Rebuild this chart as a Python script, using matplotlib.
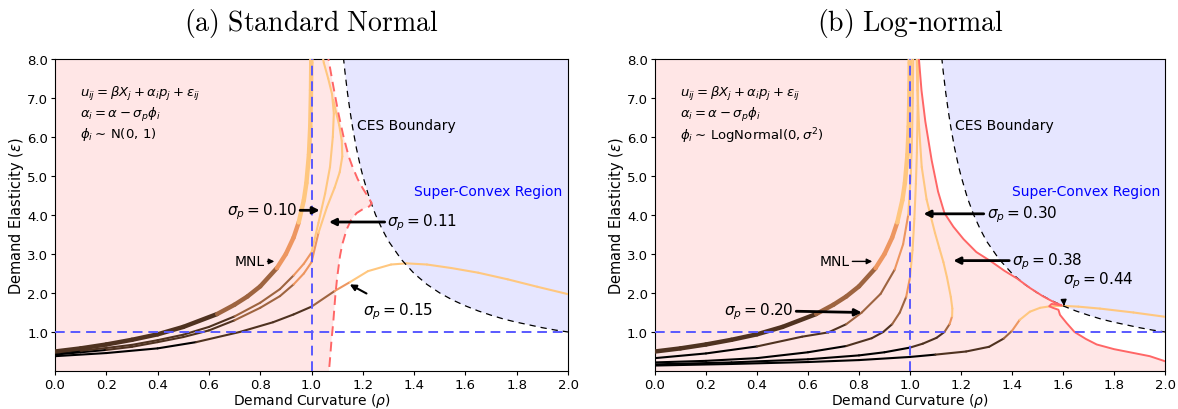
import numpy as np
import matplotlib
matplotlib.use("Agg")
import matplotlib.pyplot as plt
from matplotlib.collections import LineCollection
from matplotlib.patches import Polygon

plt.rcParams["mathtext.fontset"] = "dejavusans"
plt.rcParams["font.family"] = ["DejaVu Sans"]

# ---------------------------------------------------------------- data
# Each curve: demand curvature (rho), demand elasticity (eps) and the
# price band of each point (0..4), used for the copper colouring.
mnl_rho = [0.0, 0.1, 0.2, 0.3, 0.4, 0.5, 0.632, 0.7, 0.75, 0.8, 0.865, 0.9, 0.93,
           0.95, 0.97, 0.98, 0.99, 0.995, 0.998, 0.999, 0.9995]
mnl_eps = [0.50, 0.58, 0.68, 0.80, 0.94, 1.13, 1.46, 1.70, 1.91, 2.17, 2.64, 3.00, 3.42,
           3.81, 4.38, 4.82, 5.55, 6.27, 7.20, 7.90, 8.60]
mnl_band = [1, 1, 1, 1, 1, 1, 2, 2, 2, 2, 3, 3, 3, 4, 4, 4, 4, 4, 4, 4, 4]

# (a) standard normal heterogeneity
sn010_rho = [0.0, 0.1, 0.2, 0.3, 0.4, 0.5, 0.6, 0.7, 0.8, 0.877, 0.93, 0.97, 1.0, 1.027,
             1.053, 1.072, 1.083, 1.087, 1.08, 1.065, 1.048, 1.04]
sn010_eps = [0.46, 0.52, 0.59, 0.67, 0.79, 0.93, 1.13, 1.40, 1.75, 2.10, 2.45, 2.75, 3.04,
             3.80, 4.55, 5.23, 6.00, 6.60, 7.10, 7.50, 7.90, 8.20]
sn010_band = [0, 1, 1, 1, 1, 1, 1, 2, 2, 2, 3, 3, 4, 4, 4, 4, 4, 4, 4, 4, 4, 4]

sn011_rho = [0.0, 0.1, 0.2, 0.3, 0.4, 0.5, 0.6, 0.7, 0.8, 0.877, 0.93, 0.97, 1.0, 1.027,
             1.06, 1.09, 1.11, 1.12, 1.118, 1.108, 1.095, 1.085]
sn011_eps = [0.42, 0.48, 0.54, 0.62, 0.74, 0.87, 1.04, 1.30, 1.62, 1.92, 2.22, 2.50, 2.79,
             3.54, 4.20, 4.70, 5.10, 5.50, 5.90, 6.30, 6.65, 6.95]
sn011_band = [0, 0, 1, 1, 1, 1, 1, 2, 2, 2, 3, 3, 3, 4, 4, 4, 4, 4, 4, 4, 4, 4]

sn015_rho = [0.0, 0.2, 0.4, 0.55, 0.72, 0.85, 0.93, 1.0, 1.09, 1.15, 1.22, 1.31, 1.37,
             1.45, 1.545, 1.65, 1.765, 1.88, 2.0]
sn015_eps = [0.38, 0.46, 0.58, 0.74, 1.00, 1.25, 1.45, 1.65, 2.05, 2.28, 2.56, 2.73, 2.76,
             2.73, 2.64, 2.52, 2.35, 2.16, 1.97]
sn015_band = [0, 0, 0, 1, 1, 1, 1, 2, 3, 4, 4, 4, 4, 4, 4, 4, 4, 4, 4]

# boundary of the region reached by the normal specification
sn_edge_rho = [1.062, 1.066, 1.085, 1.105, 1.125, 1.145, 1.16, 1.18, 1.20, 1.22, 1.235,
               1.225, 1.20, 1.176, 1.155, 1.137, 1.12, 1.111, 1.10, 1.093, 1.085, 1.078,
               1.072, 1.068]
sn_edge_eps = [8.2, 8.0, 7.3, 6.6, 6.0, 5.5, 5.23, 4.92, 4.68, 4.47, 4.30,
               4.22, 4.15, 4.05, 3.88, 3.63, 3.25, 2.95, 2.40, 1.95, 1.27, 0.80,
               0.30, 0.0]

# (b) log-normal heterogeneity
ln020_rho = [0.0, 0.2, 0.4, 0.577, 0.68, 0.75, 0.811, 0.885, 0.94, 0.973, 0.993, 1.003,
             1.008, 1.011, 1.013]
ln020_eps = [0.33, 0.45, 0.63, 0.88, 0.99, 1.20, 1.50, 1.98, 2.60, 3.25, 4.00, 5.00,
             6.00, 7.00, 8.30]
ln020_band = [0, 0, 1, 1, 1, 2, 2, 2, 3, 3, 4, 4, 4, 4, 4]

ln030_rho = [0.0, 0.2, 0.4, 0.6, 0.75, 0.85, 0.895, 0.93, 0.96, 0.985, 1.0, 1.01, 1.017,
             1.023, 1.027, 1.03, 1.032]
ln030_eps = [0.22, 0.26, 0.33, 0.48, 0.64, 0.84, 1.00, 1.20, 1.50, 1.90, 2.40, 3.10, 3.90,
             4.80, 5.60, 6.80, 8.30]
ln030_band = [0, 0, 0, 0, 1, 1, 1, 2, 2, 3, 4, 4, 4, 4, 4, 4, 4]

ln038_rho = [0.0, 0.3, 0.6, 0.8, 0.9, 1.0, 1.05, 1.104, 1.135, 1.155, 1.165, 1.166, 1.16,
             1.145, 1.131, 1.115, 1.098, 1.08, 1.065, 1.046, 1.036, 1.029, 1.025]
ln038_eps = [0.17, 0.22, 0.30, 0.40, 0.48, 0.60, 0.70, 0.85, 1.00, 1.20, 1.40, 1.60, 1.90,
             2.40, 2.79, 3.15, 3.54, 4.00, 4.40, 5.23, 6.20, 7.20, 8.30]
ln038_band = [0, 0, 0, 0, 0, 1, 1, 1, 2, 3, 4, 4, 4, 4, 4, 4, 4, 4, 4, 4, 4, 4, 4]

ln044_rho = [0.0, 0.3, 0.6, 0.8, 1.0, 1.1, 1.22, 1.31, 1.367, 1.40, 1.43, 1.47, 1.51,
             1.55, 1.60, 1.66, 1.745, 1.876, 2.0]
ln044_eps = [0.14, 0.18, 0.23, 0.28, 0.36, 0.42, 0.50, 0.62, 0.83, 1.03, 1.31, 1.52, 1.62,
             1.66, 1.67, 1.65, 1.60, 1.50, 1.39]
ln044_band = [0, 0, 0, 0, 0, 1, 1, 1, 2, 3, 4, 4, 4, 4, 4, 4, 4, 4, 4]

ln_edge_rho = [1.03, 1.035, 1.045, 1.06, 1.085, 1.11, 1.135, 1.17, 1.21, 1.26, 1.32, 1.37,
               1.42, 1.47, 1.52, 1.56, 1.595, 1.575, 1.555, 1.546, 1.56, 1.582, 1.588,
               1.614, 1.645, 1.69, 1.732, 1.80, 1.87, 1.94, 2.0]
ln_edge_eps = [8.2, 8.0, 7.2, 6.4, 5.4, 4.6, 4.05, 3.70, 3.38, 3.05, 2.80, 2.57,
               2.37, 2.13, 1.92, 1.78, 1.68, 1.70, 1.72, 1.66, 1.62, 1.57, 1.44,
               1.23, 1.00, 0.82, 0.68, 0.56, 0.47, 0.38, 0.25]

# CES boundary
ces_rho = [1.12, 1.125, 1.13, 1.14, 1.15, 1.16, 1.175, 1.19, 1.2, 1.225, 1.25, 1.275, 1.3,
           1.35, 1.4, 1.45, 1.5, 1.55, 1.6, 1.65, 1.7, 1.75, 1.8, 1.85, 1.9, 1.95, 2.0]
ces_eps = [8.33, 8.00, 7.69, 7.14, 6.67, 6.25, 5.71, 5.26, 5.00, 4.44, 4.00, 3.64, 3.33,
           2.86, 2.50, 2.22, 2.00, 1.82, 1.67, 1.54, 1.43, 1.33, 1.25, 1.18, 1.11, 1.05, 1.00]

x_ticks = [0.0, 0.2, 0.4, 0.6, 0.8, 1.0, 1.2, 1.4, 1.6, 1.8, 2.0]
y_ticks = [1.0, 2.0, 3.0, 4.0, 5.0, 6.0, 7.0, 8.0]

PINK = (1.0, 0.90, 0.90)
LAV = (0.90, 0.90, 1.0)
EDGE_RED = "#ff6666"
GUIDE_BLUE = (0.35, 0.35, 1.0)


def copper_path(ax, rho, eps, band, lw=1.5):
    pts = np.column_stack([rho, eps])
    segs = np.stack([pts[:-1], pts[1:]], axis=1)
    cols = plt.cm.copper(np.asarray(band[:-1], dtype=float) / 4.0)
    lc = LineCollection(segs, colors=cols, linewidths=lw, capstyle="round",
                        joinstyle="round", zorder=3)
    ax.add_collection(lc)


def base_axes(ax, title, edge_rho, edge_eps):
    ax.set_xlim(0, 2)
    ax.set_ylim(0, 8)
    # shaded regions
    pink = [(0, 0), (0, 8)] + list(zip(edge_rho, edge_eps))
    pink.append((edge_rho[-1], 0))
    ax.add_patch(Polygon(pink, closed=True, facecolor=PINK, edgecolor="none", zorder=0))
    lav = [(2.0, 8.0)] + list(zip(ces_rho, ces_eps)) + [(2.0, 1.0)]
    ax.add_patch(Polygon(lav, closed=True, facecolor=LAV, edgecolor="none", zorder=0))
    ax.plot(ces_rho, ces_eps, color="black", lw=0.9, ls=(0, (5, 4)), zorder=4)
    ax.axvline(1.0, color=GUIDE_BLUE, lw=1.4, ls=(0, (5, 3)), zorder=5)
    ax.axhline(1.0, color=GUIDE_BLUE, lw=1.4, ls=(0, (5, 3)), zorder=5)
    ax.set_xticks(x_ticks)
    ax.set_xticklabels([f"{v:.1f}" for v in x_ticks])
    ax.set_yticks(y_ticks)
    ax.set_yticklabels([f"{v:.1f}" for v in y_ticks])
    ax.tick_params(labelsize=9.5, pad=2, length=3)
    ax.set_xlabel(r"Demand Curvature ($\rho$)", fontsize=10, labelpad=0)
    ax.set_ylabel(r"Demand Elasticity ($\epsilon$)", fontsize=10.5, labelpad=1)
    ax.set_title(title, fontsize=20, math_fontfamily="cm", pad=21)
    ax.text(1.177, 6.31, "CES Boundary", fontsize=10, va="center", zorder=6)
    ax.text(1.40, 4.62, "Super-Convex Region", fontsize=10, color="blue",
            va="center", zorder=6)


def note(ax, label, tip, at, lw=2.0, ms=10):
    ax.annotate(label, xy=tip, xytext=at, fontsize=11, va="center", ha="left",
                arrowprops=dict(arrowstyle="-|>", color="black", lw=lw,
                                mutation_scale=ms, shrinkA=0, shrinkB=0),
                zorder=7)


fig = plt.figure(figsize=(11.78, 4.10), dpi=100)
ax1 = fig.add_axes([0.0467, 0.0927, 0.4355, 0.761])
ax2 = fig.add_axes([0.556, 0.0927, 0.433, 0.761])

# ---------------------------------------------------------------- panel (a)
base_axes(ax1, r"$\mathrm{(a)\ Standard\ Normal}$", sn_edge_rho, sn_edge_eps)
ax1.plot(sn_edge_rho, sn_edge_eps, color=EDGE_RED, lw=1.4, ls=(0, (5, 3)), zorder=4)
copper_path(ax1, sn015_rho, sn015_eps, sn015_band)
copper_path(ax1, sn011_rho, sn011_eps, sn011_band)
copper_path(ax1, sn010_rho, sn010_eps, sn010_band)
copper_path(ax1, mnl_rho, mnl_eps, mnl_band, lw=3.2)

ax1.text(0.097, 7.35,
         r"$u_{ij} = \beta X_j + \alpha_i p_j + \varepsilon_{ij}$" "\n"
         r"$\alpha_i = \alpha - \sigma_p\phi_i$" "\n"
         r"$\phi_i \sim\,$N(0, 1)",
         fontsize=9.5, va="top", linespacing=1.2, zorder=6)

ax1.annotate("MNL", xy=(0.855, 2.81), xytext=(0.70, 2.81), fontsize=10, va="center",
             arrowprops=dict(arrowstyle="-|>", color="black", lw=1.0,
                             mutation_scale=8, shrinkA=0, shrinkB=0), zorder=7)
note(ax1, r"$\sigma_p = 0.10$", (1.032, 4.12), (0.67, 4.12))
note(ax1, r"$\sigma_p = 0.11$", (1.068, 3.82), (1.296, 3.82))
ax1.annotate(r"$\sigma_p = 0.15$", xy=(1.149, 2.22), xytext=(1.20, 1.55), fontsize=11,
             va="center", ha="left",
             arrowprops=dict(arrowstyle="-|>", color="black", lw=1.5,
                             mutation_scale=9, shrinkA=6, shrinkB=0), zorder=7)

# ---------------------------------------------------------------- panel (b)
base_axes(ax2, r"$\mathrm{(b)\ Log}$-$\mathrm{normal}$", ln_edge_rho + [2.0], ln_edge_eps + [0.0])
ax2.plot(ln_edge_rho, ln_edge_eps, color=EDGE_RED, lw=1.4, zorder=4)
copper_path(ax2, ln044_rho, ln044_eps, ln044_band)
copper_path(ax2, ln038_rho, ln038_eps, ln038_band)
copper_path(ax2, ln030_rho, ln030_eps, ln030_band)
copper_path(ax2, ln020_rho, ln020_eps, ln020_band)
copper_path(ax2, mnl_rho, mnl_eps, mnl_band, lw=3.2)

ax2.text(0.097, 7.35,
         r"$u_{ij} = \beta X_j + \alpha_i p_j + \varepsilon_{ij}$" "\n"
         r"$\alpha_i = \alpha - \sigma_p\phi_i$" "\n"
         r"$\phi_i \sim\,$LogNormal$(0, \sigma^2)$",
         fontsize=9.5, va="top", linespacing=1.2, zorder=6)

ax2.annotate("MNL", xy=(0.852, 2.81), xytext=(0.645, 2.81), fontsize=10, va="center",
             arrowprops=dict(arrowstyle="-|>", color="black", lw=1.0,
                             mutation_scale=8, shrinkA=0, shrinkB=0), zorder=7)
note(ax2, r"$\sigma_p = 0.20$", (0.811, 1.50), (0.27, 1.55))
note(ax2, r"$\sigma_p = 0.30$", (1.053, 4.03), (1.30, 4.03))
note(ax2, r"$\sigma_p = 0.38$", (1.17, 2.83), (1.40, 2.83))
ax2.annotate(r"$\sigma_p = 0.44$", xy=(1.604, 1.67), xytext=(1.60, 2.33), fontsize=11,
             va="center", ha="left",
             arrowprops=dict(arrowstyle="-|>", color="black", lw=1.2,
                             mutation_scale=8, shrinkA=8, shrinkB=0,
                             relpos=(0.0, 0.0)), zorder=7)

fig.savefig("out.png", dpi=100)
